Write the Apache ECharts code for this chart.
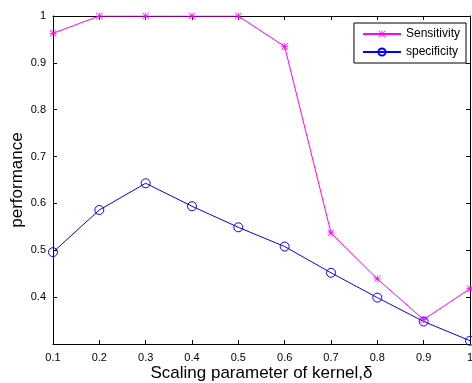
<!DOCTYPE html>
<html>
<head>
<meta charset="utf-8">
<script src="https://cdn.jsdelivr.net/npm/echarts@6/dist/echarts.min.js"></script>
<style>
  html, body { margin: 0; padding: 0; background: #fff; }
  #chart { width: 472px; height: 383px; }
</style>
</head>
<body>
<div id="chart"></div>
<script>
// kernel scaling parameter (x) and the two measures
const deltas = [0.1, 0.2, 0.3, 0.4, 0.5, 0.6, 0.7, 0.8, 0.9, 1.0];
const sensitivity = [0.963, 1, 1, 1, 1, 0.935, 0.537, 0.439, 0.352, 0.418];
const specificity = [0.496, 0.586, 0.643, 0.594, 0.549, 0.508, 0.452, 0.399, 0.348, 0.307];

// matlab style '*' marker
const starPath = 'path://M4.5 0L5.5 0L5.5 10L4.5 10Z M0 4.5L10 4.5L10 5.5L0 5.5Z ' +
  'M0.7 0L10 9.3L9.3 10L0 0.7Z M9.3 0L10 0.7L0.7 10L0 9.3Z';

const font = 'Liberation Sans, Arial, sans-serif';
const chart = echarts.init(document.getElementById('chart'));

const fmtX = (v) => (Math.abs(v - 1) < 1e-9 ? '1' : v.toFixed(1));
const fmtY = (v) => {
  if (Math.abs(v - 0.3) < 1e-9) return '';
  return Math.abs(v - 1) < 1e-9 ? '1' : v.toFixed(1);
};

const axisLine = { show: true, lineStyle: { color: '#000', width: 1 } };
const tickIn = { show: true, inside: true, length: 4, lineStyle: { color: '#000' } };

chart.setOption({
  animation: false,
  textStyle: { fontFamily: font },
  grid: { left: 53, right: 2, top: 16, bottom: 39, outerBoundsMode: 'none', containLabel: false },
  legend: {
    orient: 'vertical',
    right: 6,
    top: 23,
    padding: [5, 6, 5, 8],
    itemGap: 6,
    itemWidth: 38,
    itemHeight: 9,
    borderColor: '#000',
    borderWidth: 1,
    backgroundColor: '#fff',
    textStyle: { fontSize: 12, color: '#000', fontFamily: font },
    data: ['Sensitivity', 'specificity'],
  },
  xAxis: [
    {
      type: 'value',
      min: 0.1,
      max: 1,
      interval: 0.1,
      name: 'Scaling parameter of kernel,δ',
      nameLocation: 'middle',
      nameMoveOverlap: false,
      nameGap: 21,
      nameTextStyle: { fontSize: 17, color: '#000', fontFamily: font },
      axisLine,
      axisTick: tickIn,
      axisLabel: { color: '#000', fontSize: 11, margin: 8, formatter: fmtX },
      splitLine: { show: false },
    },
    {
      type: 'value',
      position: 'top',
      min: 0.1,
      max: 1,
      interval: 0.1,
      axisLine,
      axisTick: tickIn,
      axisLabel: { show: false },
      splitLine: { show: false },
    },
  ],
  yAxis: [
    {
      type: 'value',
      min: 0.3,
      max: 1,
      interval: 0.1,
      name: 'performance',
      nameLocation: 'middle',
      nameMoveOverlap: false,
      nameGap: 27,
      nameTextStyle: { fontSize: 17, color: '#000', fontFamily: font },
      axisLine,
      axisTick: tickIn,
      axisLabel: { color: '#000', fontSize: 11, margin: 7, formatter: fmtY },
      splitLine: { show: false },
    },
    {
      type: 'value',
      position: 'right',
      min: 0.3,
      max: 1,
      interval: 0.1,
      axisLine,
      axisTick: tickIn,
      axisLabel: { show: false },
      splitLine: { show: false },
    },
  ],
  series: [
    {
      name: 'Sensitivity',
      type: 'line',
      data: deltas.map((d, i) => [d, sensitivity[i]]),
      symbol: starPath,
      symbolSize: 7,
      showAllSymbol: true,
      lineStyle: { color: '#ff00ff', width: 1 },
      itemStyle: { color: '#ff00ff' },
    },
    {
      name: 'specificity',
      type: 'line',
      data: deltas.map((d, i) => [d, specificity[i]]),
      symbol: 'circle',
      symbolSize: 9,
      showAllSymbol: true,
      lineStyle: { color: '#0000ff', width: 1 },
      itemStyle: { color: 'rgba(0,0,0,0)', borderColor: '#0000ff', borderWidth: 1 },
    },
  ],
});
</script>
</body>
</html>
